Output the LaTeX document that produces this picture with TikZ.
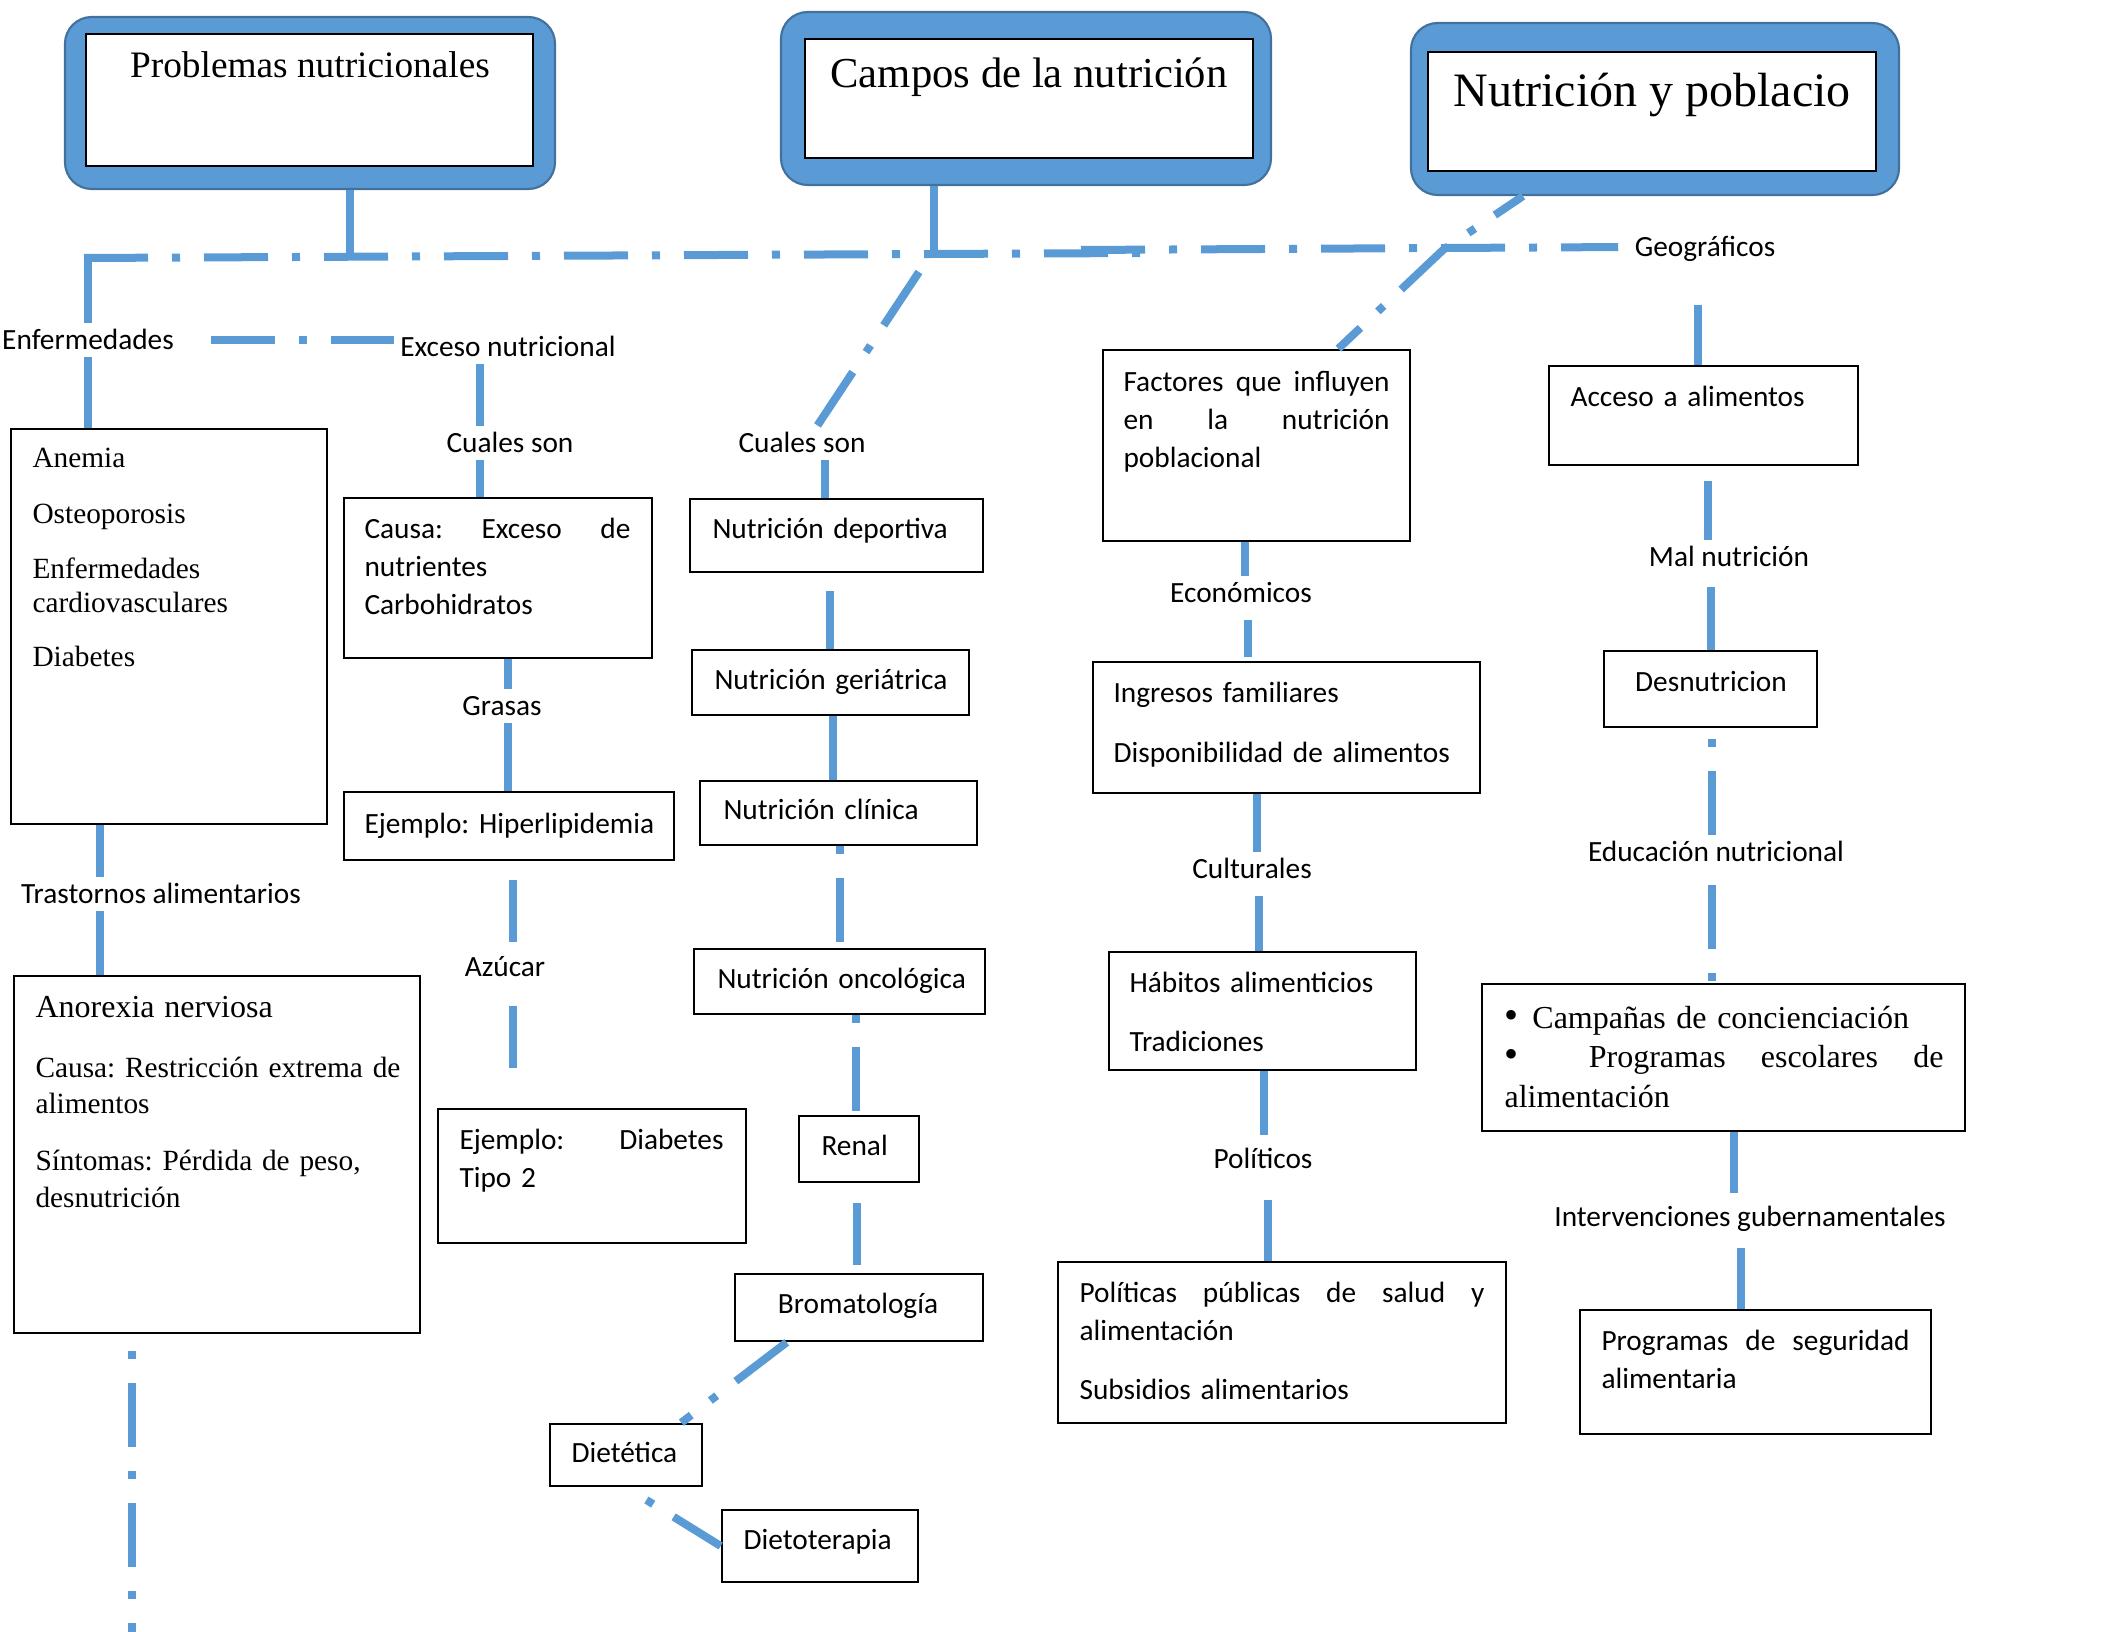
\documentclass[tikz,border=0pt]{standalone}
\usepackage{fontspec}
\setmainfont{Liberation Serif}
\newfontfamily\carl{Carlito}
\usepackage{tikz}
\usetikzlibrary{fit}
\definecolor{conblue}{HTML}{5B9BD5}
\definecolor{edgeblue}{HTML}{41719C}
\tikzstyle{topbox} = [draw=edgeblue, line width=0.8pt, fill=conblue, rounded corners=10pt, inner sep=0pt]
\tikzstyle{inbox} = [draw=black, line width=1pt, fill=white, inner sep=0pt]
\tikzstyle{mybox} = [draw=black, line width=1pt, inner sep=0pt]
\tikzstyle{boxtext} = [font=\carl\fontsize{11}{14.25}\selectfont, align=left, anchor=north west, inner sep=0pt]
\tikzstyle{serift} = [font=\fontsize{11}{12.75}\selectfont, align=left, anchor=north west, inner sep=0pt]
\tikzstyle{lbl} = [font=\carl\fontsize{11}{13}\selectfont, text height=7.2pt, text depth=0pt, inner xsep=2pt, inner ysep=2.5pt]
\tikzstyle{conn} = [draw=conblue, line width=3pt]
\tikzstyle{longdashdot} = [conn, dash pattern=on 24pt off 9pt on 3pt off 9pt]
\newcommand{\bigbullet}{{\fontsize{15}{14.8}\selectfont\textbullet}}

\begin{document}
\frenchspacing
\begin{tikzpicture}[x=0.375pt, y=-0.375pt]
\useasboundingbox (0,0) rectangle (2112,1632);

% title boxes
\node[topbox, fit={(65,17) (555,189)}] (prob) {};
\node[inbox, fit={(86,34) (533,166)}] (probin) {};
\node[font=\fontsize{14}{16}\selectfont, anchor=base] (probt) at (310,78) {Problemas nutricionales};
\node[topbox, fit={(781,12) (1271,185)}] (campos) {};
\node[inbox, fit={(805,39) (1253,158)}] (camposin) {};
\node[font=\fontsize{16}{18}\selectfont, anchor=base] (campost) at (1029,88) {Campos de la nutrición};
\node[topbox, fit={(1411,23) (1899,195)}] (nutpob) {};
\node[inbox, fit={(1428,52) (1876,171)}] (nutpobin) {};
\node[font=\fontsize{18}{20}\selectfont, anchor=base] (nutpobt) at (1652,107) {Nutrición y poblacio};

% labels
\node[lbl] (enf) at (88,340) {Enfermedades};
\node[lbl] (exceso) at (508,347) {Exceso nutricional};
\node[lbl] (cuales1) at (510,443) {Cuales son};
\node[lbl] (cuales2) at (802,443) {Cuales son};
\node[lbl] (geo) at (1705,247) {Geográficos};
\node[lbl] (grasas) at (502,706) {Grasas};
\node[lbl] (azucar) at (505,967) {Azúcar};
\node[lbl] (trast) at (161,894) {Trastornos alimentarios};
\node[lbl] (econ) at (1241,593) {Económicos};
\node[lbl] (malnut) at (1729,557) {Mal nutrición};
\node[lbl] (cult) at (1252,869) {Culturales};
\node[lbl] (educ) at (1716,852) {Educación nutricional};
\node[lbl] (polit) at (1263,1159) {Políticos};
\node[lbl] (interv) at (1750,1217) {Intervenciones gubernamentales};

% boxes
\node[mybox, fit={(11,429) (327,824)}] (anemia) {};
\node[serift, text width=110pt] (anemiat) at (32,443) {\strut Anemia\\[8.2pt] Osteoporosis\\[8pt] Enfermedades\\ cardiovasculares\\[7.5pt] Diabetes};
\node[mybox, fit={(344,498) (652,658)}] (causa) {};
\node[boxtext, text width=99.75pt] (causat) at (364,511) {\strut Causa:\hfill Exceso\hfill de\\ nutrientes\\ Carbohidratos};
\node[mybox, fit={(344,792) (674,860)}] (hiper) {};
\node[boxtext, text width=115pt] (hipert) at (364,806) {\strut Ejemplo: Hiperlipidemia};
\node[mybox, fit={(438,1109) (746,1243)}] (diabetes) {};
\node[boxtext, text width=99pt] (diabetest) at (459,1122) {\strut Ejemplo:\hfill Diabetes\\ Tipo 2};
\node[mybox, fit={(14,976) (420,1333)}] (anorexia) {};
\node[serift, font=\fontsize{11}{13.7}\selectfont, text width=140pt] (anorexiat) at (35,991) {\strut{\fontsize{12}{13.7}\selectfont Anorexia nerviosa}\\[8.8pt] Causa: Restricción extrema de\\ alimentos\\[7.7pt] Síntomas: Pérdida de peso,\\ desnutrición};

\node[mybox, fit={(690,499) (983,572)}] (deportiva) {};
\node[boxtext, text width=100pt] (deportivat) at (712,511) {\strut Nutrición deportiva};
\node[mybox, fit={(692,650) (969,715)}] (geriatrica) {};
\node[boxtext, text width=100pt] (geriatricat) at (714,662) {\strut Nutrición geriátrica};
\node[mybox, fit={(700,781) (977,845)}] (clinica) {};
\node[boxtext, text width=100pt] (clinicat) at (723,792) {\strut Nutrición clínica};
\node[mybox, fit={(694,949) (985,1014)}] (oncologica) {};
\node[boxtext, text width=100pt] (oncologicat) at (717,961) {\strut Nutrición oncológica};
\node[mybox, fit={(799,1116) (919,1182)}] (renal) {};
\node[boxtext, text width=40pt] (renalt) at (821,1128) {\strut Renal};
\node[mybox, fit={(735,1274) (983,1341)}] (broma) {};
\node[boxtext, anchor=north] (bromat) at (858,1286) {\strut Bromatología};
\node[mybox, fit={(550,1424) (702,1486)}] (dietetica) {};
\node[boxtext, text width=50pt] (dieteticat) at (571,1435) {\strut Dietética};
\node[mybox, fit={(722,1510) (918,1582)}] (dietot) {};
\node[boxtext, text width=60pt] (dietott) at (743,1522) {\strut Dietoterapia};

\node[mybox, fit={(1103,350) (1410,541)}] (factores) {};
\node[boxtext, text width=99.75pt] (factorest) at (1123,364) {\strut Factores\hfill que\hfill influyen\\ en\hfill la\hfill nutrición\\ poblacional};
\node[mybox, fit={(1093,662) (1480,793)}] (ingresos) {};
\node[boxtext, text width=130pt] (ingresost) at (1113,675) {\strut Ingresos familiares\\[8.25pt] Disponibilidad de alimentos};
\node[mybox, fit={(1109,952) (1416,1070)}] (habitos) {};
\node[boxtext, text width=100pt] (habitost) at (1129,965) {\strut Hábitos alimenticios\\[7.9pt] Tradiciones};
\node[mybox, fit={(1058,1262) (1506,1423)}] (politicas) {};
\node[boxtext, text width=151.9pt] (politicast) at (1079,1275) {\strut Políticas\hfill públicas\hfill de\hfill salud\hfill y\\ alimentación\\[7.9pt] Subsidios alimentarios};

\node[mybox, fit={(1549,366) (1858,465)}] (acceso) {};
\node[boxtext, text width=100pt] (accesot) at (1570,379) {\strut Acceso a alimentos};
\node[mybox, fit={(1604,651) (1817,727)}] (desnut) {};
\node[boxtext, anchor=north] (desnutt) at (1711,664) {\strut Desnutricion};
\node[mybox, fit={(1482,984) (1965,1131)}] (campanas) {};
\node[serift, font=\fontsize{12}{14.8}\selectfont, text width=164.6pt] (campanast) at (1504,1000) {\strut\bigbullet\hspace{5.2pt}Campañas de concienciación\\ \bigbullet\hfill\hfill Programas\hfill escolares\hfill de\\ alimentación};
\node[mybox, fit={(1580,1310) (1931,1434)}] (programas) {};
\node[boxtext, text width=115.5pt] (programast) at (1601,1323) {\strut Programas\hfill de\hfill seguridad\\ alimentaria};

% connectors, top bar
\coordinate (jp) at (350,257);
\coordinate (jc) at (934,257);
\coordinate (k0) at (84,258);
\coordinate (k1) at (1144,253);
\coordinate (k2) at (1081,250);
\coordinate (k3) at (1443,250);
\coordinate (d0) at (919,272);
\draw[conn] (prob.south -| jp) -- (jp);
\draw[conn] (campos.south -| jc) -- (jc);
\draw[longdashdot] (k0) -- (k1);
\draw[longdashdot, shorten >=4pt] (k2) -- (geo.west);
\draw[conn] (enf.north) -- (88,254);

% left
\draw[conn] (enf.south) -- (enf.south |- anemia.north);
\draw[longdashdot, shorten <=11.6pt] (enf.east) -- (enf.east -| exceso.west);
\draw[conn] (exceso.south -| 480,0) -- (cuales1.north -| 480,0);
\draw[conn] (cuales1.south -| 480,0) -- (causa.north -| 480,0);
\draw[conn] (causa.south -| 508,0) -- (grasas.north -| 508,0);
\draw[conn] (grasas.south -| 508,0) -- (hiper.north -| 508,0);
\draw[conn, shorten <=7pt, shorten >=3pt] (hiper.south -| 513,0) -- (azucar.north -| 513,0);
\draw[conn, shorten <=8.25pt, shorten >=15pt] (azucar.south -| 513,0) -- (diabetes.north -| 513,0);
\draw[conn] (anemia.south -| 100,0) -- (trast.north -| 100,0);
\draw[conn] (trast.south -| 100,0) -- (anorexia.north -| 100,0);
\draw[longdashdot, dash phase=26.6pt] (anorexia.south -| 132,0) -- (132,1640);

% middle
\draw[longdashdot] (d0) -- ([shift={(15,0)}]cuales2.north);
\draw[conn] (cuales2.south -| 825,0) -- (deportiva.north -| 825,0);
\draw[conn, shorten <=6.75pt] (deportiva.south -| 830,0) -- (geriatrica.north -| 830,0);
\draw[conn] (geriatrica.south -| 833,0) -- (clinica.north -| 833,0);
\draw[longdashdot, dash phase=33pt] (clinica.south -| 840,0) -- (oncologica.north -| 840,0);
\draw[longdashdot, dash phase=33pt] (oncologica.south -| 856,0) -- (renal.north -| 856,0);
\draw[conn, shorten <=7.5pt, shorten >=3pt] (renal.south -| 857,0) -- (broma.north -| 857,0);
\draw[longdashdot] ([shift={(53,0)}]broma.south west) -- ([shift={(-22,0)}]dietetica.north east);
\draw[longdashdot, dash phase=24pt] (dietetica.south) -- (dietot.west);

% right
\draw[longdashdot, dash phase=11.25pt] ([shift={(-132,0)}]nutpob.south) -- (k3) -- ([shift={(-73,0)}]factores.north east);
\draw[conn] (factores.south -| 1245,0) -- (econ.north -| 1245,0);
\draw[conn, shorten <=4pt, shorten >=1.5pt] (econ.south -| 1248,0) -- (ingresos.north -| 1248,0);
\draw[conn] (ingresos.south -| 1257,0) -- (cult.north -| 1257,0);
\draw[conn, shorten <=3.75pt] (cult.south -| 1259,0) -- (habitos.north -| 1259,0);
\draw[conn, shorten >=2.6pt] (habitos.south -| 1264,0) -- (polit.north -| 1264,0);
\draw[conn, shorten <=9pt] (polit.south -| 1268,0) -- (politicas.north -| 1268,0);
\draw[conn, shorten <=15.4pt] (geo.south -| 1698,0) -- (acceso.north -| 1698,0);
\draw[conn, shorten <=5.6pt] (acceso.south -| 1708,0) -- (malnut.north -| 1708,0);
\draw[conn, shorten <=5pt] (malnut.south -| 1711,0) -- (desnut.north -| 1711,0);
\draw[longdashdot, dash phase=29pt] (desnut.south -| 1712,0) -- (educ.north -| 1712,0);
\draw[longdashdot, shorten <=6pt] (educ.south -| 1712,0) -- (campanas.north -| 1712,0);
\draw[conn, shorten >=2.6pt] (campanas.south -| 1734,0) -- (interv.north -| 1734,0);
\draw[conn, shorten <=5.3pt] (interv.south -| 1741,0) -- (programas.north -| 1741,0);
\end{tikzpicture}
\end{document}
